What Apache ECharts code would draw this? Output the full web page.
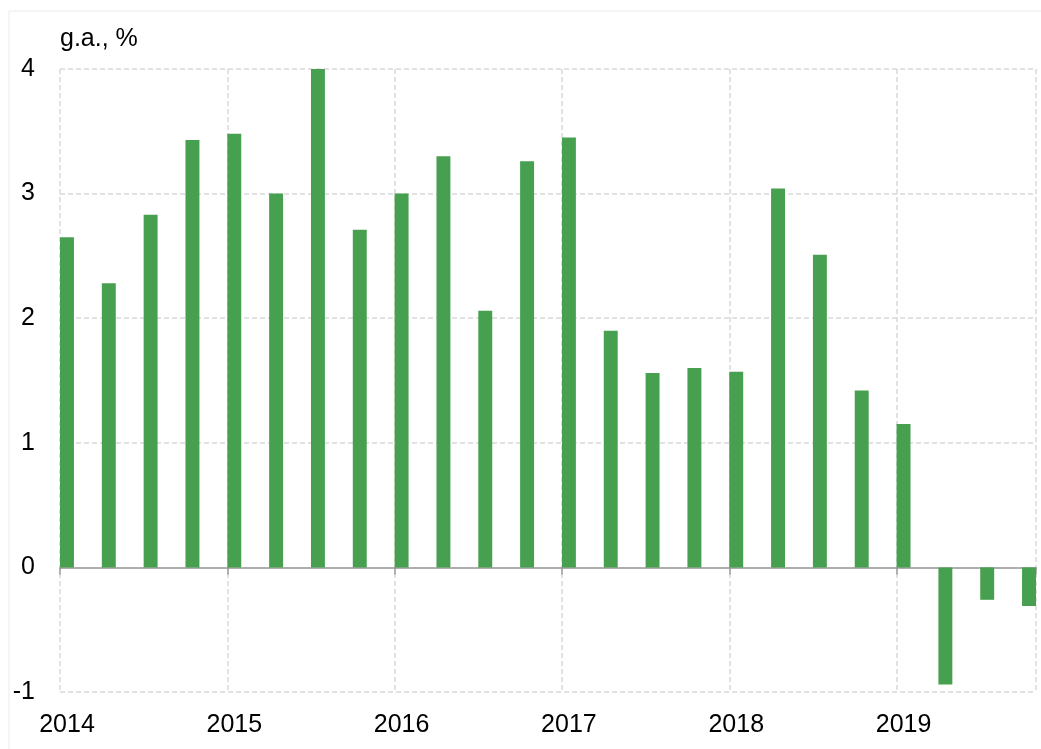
<!DOCTYPE html>
<html>
<head>
    <meta charset="utf-8">
    <title>g.a., %</title>
    <script src="https://cdn.jsdelivr.net/npm/echarts@6/dist/echarts.min.js"></script>
    <style>
        html, body { margin: 0; padding: 0; background: #fff; }
        #chart { width: 1041px; height: 749px; }
    </style>
</head>
<body>
    <div id="chart"></div>
    <script>
        // years on the axis, one bar per quarter (placed in the first month of the quarter)
        var years = ['2014', '2015', '2016', '2017', '2018', '2019'];
        var lastMonth = 10; // axis runs through Oct 2019
        var quarterValues = [
            2.65, 2.28, 2.83, 3.43,
            3.48, 3.00, 4.00, 2.71,
            3.00, 3.30, 2.06, 3.26,
            3.45, 1.90, 1.56, 1.60,
            1.57, 3.04, 2.51, 1.42,
            1.15, -0.94, -0.26, -0.31
        ];
        var yTicks = [-1, 0, 1, 2, 3, 4];

        var months = [];
        var monthData = [];
        years.forEach(function (y, yi) {
            var n = (yi === years.length - 1) ? lastMonth : 12;
            for (var m = 1; m <= n; m++) {
                months.push(y + '-' + (m < 10 ? '0' + m : m));
                var idx = months.length - 1;
                monthData.push(idx % 3 === 0 ? quarterValues[idx / 3] : null);
            }
        });

        var font = '"Liberation Sans Narrow", "Liberation Sans", Arial, sans-serif';
        var isYearStart = function (i) { return i % 12 === 0; };

        var chart = echarts.init(document.getElementById('chart'));
        chart.setOption({
            animation: false,
            backgroundColor: '#fff',
            graphic: [{
                type: 'rect',
                shape: { x: 9, y: 11, width: 1040, height: 745 },
                style: { fill: 'none', stroke: '#ebebeb', lineWidth: 1 },
                silent: true, z: -1
            }],
            title: {
                text: 'g.a., %',
                left: 55,
                top: 22,
                textStyle: { fontFamily: font, fontSize: 25, fontWeight: 'normal', color: '#000' }
            },
            grid: { left: 60, right: 5, top: 69, bottom: 57, containLabel: false },
            xAxis: [{
                type: 'category',
                data: months,
                boundaryGap: true,
                axisLine: { onZero: true, lineStyle: { color: '#999', width: 1.5 } },
                axisTick: { show: true, interval: isYearStart, length: 7, lineStyle: { color: '#999', width: 1.5 } },
                axisLabel: { show: false },
                splitLine: { show: true, interval: isYearStart, lineStyle: { color: '#d9d9d9', type: [5, 3], width: 1.5 } }
            }, {
                type: 'category',
                data: months,
                position: 'bottom',
                boundaryGap: true,
                axisLine: { show: false, onZero: false },
                axisTick: { show: false },
                splitLine: { show: false },
                axisLabel: {
                    interval: isYearStart,
                    margin: 21,
                    fontFamily: font,
                    fontSize: 25,
                    color: '#000',
                    formatter: function (v) { return v.slice(0, 4); }
                }
            }],
            yAxis: {
                type: 'value',
                min: yTicks[0],
                max: yTicks[yTicks.length - 1],
                interval: 1,
                axisLine: { show: false },
                axisTick: { show: false },
                axisLabel: { margin: 25, fontFamily: font, fontSize: 25, color: '#000' },
                splitLine: { show: true, lineStyle: { color: '#d9d9d9', type: [5, 3], width: 1.5 } }
            },
            series: [{
                type: 'bar',
                xAxisIndex: 0,
                data: monthData,
                barWidth: '100%',
                itemStyle: { color: '#47a04f' }
            }]
        });
    </script>
</body>
</html>
